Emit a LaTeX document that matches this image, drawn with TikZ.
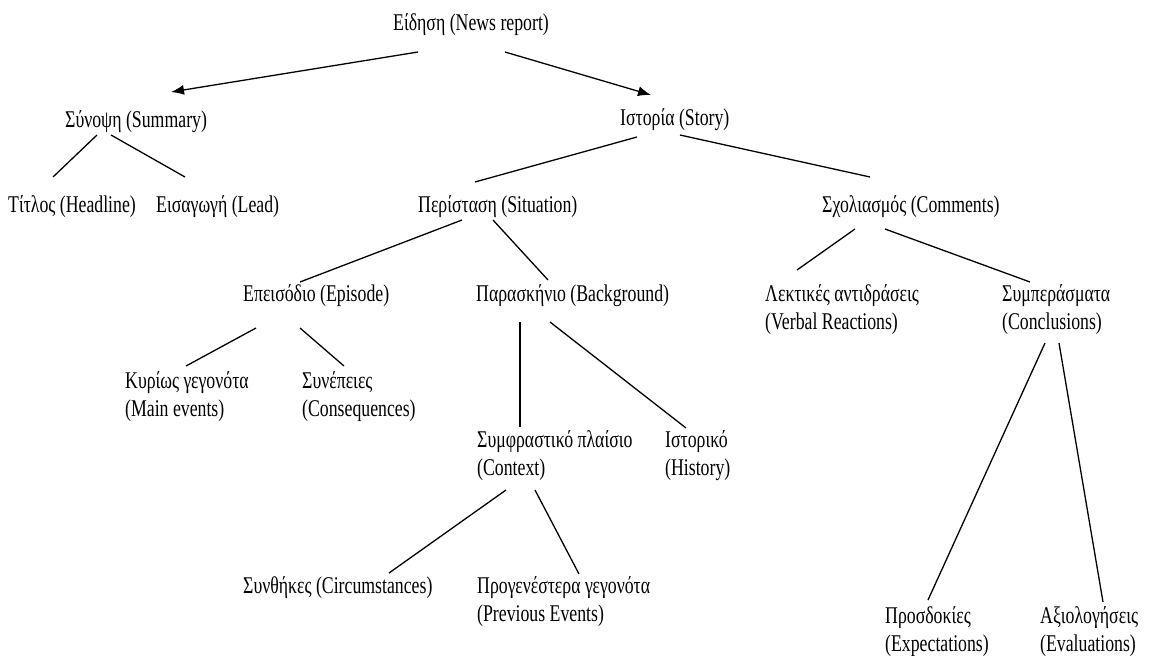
\documentclass[tikz,border=0pt]{standalone}
\usepackage{fontspec}
\setmainfont{Liberation Serif}[FakeStretch=0.74]
\usetikzlibrary{arrows.meta,calc}
\begin{document}
\begin{tikzpicture}[x=1pt,y=-1pt,
  lbl/.style={anchor=west,inner sep=0pt,align=left,font=\fontsize{24}{28}\selectfont},
  conn/.style={line width=1.3pt},
  arr/.style={line width=1.3pt,-{Latex[length=13pt,width=10pt]}}]
\useasboundingbox (0,0) rectangle (1149,656);
\node[lbl] (news) at (393,25) {Είδηση (News report)};
\node[lbl] (sum) at (65,122) {Σύνοψη (Summary)};
\node[lbl] (story) at (620,120) {Ιστορία (Story)};
\node[lbl] (tit) at (8,207) {Τίτλος (Headline)};
\node[lbl] (lead) at (156,207) {Εισαγωγή (Lead)};
\node[lbl] (sit) at (418,207) {Περίσταση (Situation)};
\node[lbl] (com) at (822,207) {Σχολιασμός (Comments)};
\node[lbl] (epi) at (243,296) {Επεισόδιο (Episode)};
\node[lbl] (bg) at (476,296) {Παρασκήνιο (Background)};
\node[lbl] (lek) at (765,310) {Λεκτικές αντιδράσεις\\(Verbal Reactions)};
\node[lbl] (sym) at (1002,310) {Συμπεράσματα\\(Conclusions)};
\node[lbl] (main) at (125,397) {Κυρίως γεγονότα\\(Main events)};
\node[lbl] (cons) at (302,397) {Συνέπειες\\(Consequences)};
\node[lbl] (ctx) at (477,456) {Συμφραστικό πλαίσιο\\(Context)};
\node[lbl] (hist) at (665,456) {Ιστορικό\\(History)};
\node[lbl] (circ) at (243,588) {Συνθήκες (Circumstances)};
\node[lbl] (prev) at (477,602) {Προγενέστερα γεγονότα\\(Previous Events)};
\node[lbl] (pros) at (885,632) {Προσδοκίες\\(Expectations)};
\node[lbl] (axi) at (1040,632) {Αξιολογήσεις\\(Evaluations)};

\draw[arr] ($(news.west)+(25,27)$) -- ($(sum.west)+(106,-30)$);
\draw[arr] ($(news.west)+(112,27)$) -- ($(story.west)+(31,-25)$);
\draw[conn] ($(sum.west)+(32,13)$) -- ($(tit.west)+(45,-30)$);
\draw[conn] ($(sum.west)+(46,13)$) -- ($(lead.west)+(29,-30)$);
\draw[conn] ($(story.west)+(17,17)$) -- ($(sit.west)+(57,-25)$);
\draw[conn] ($(story.west)+(60,15)$) -- ($(com.west)+(48,-30)$);
\draw[conn] ($(sit.west)+(44,13)$) -- ($(epi.west)+(57,-14)$);
\draw[conn] ($(sit.west)+(75,13)$) -- ($(bg.west)+(72,-16)$);
\draw[conn] ($(epi.west)+(13,32)$) -- ($(main.west)+(61,-31)$);
\draw[conn] ($(epi.west)+(57,32)$) -- ($(cons.west)+(42,-31)$);
\draw[conn] ($(bg.west)+(44,26)$) -- ($(ctx.west)+(43,-29)$);
\draw[conn] ($(bg.west)+(74,26)$) -- ($(hist.west)+(21,-28)$);
\draw[conn] ($(com.west)+(33,22)$) -- ($(lek.west)+(32,-40)$);
\draw[conn] ($(com.west)+(63,22)$) -- ($(sym.west)+(28,-28)$);
\draw[conn] ($(sym.west)+(43,33)$) -- ($(pros.west)+(43,-32)$);
\draw[conn] ($(sym.west)+(57,33)$) -- ($(axi.west)+(63,-30)$);
\draw[conn] ($(ctx.west)+(29,34)$) -- ($(circ.west)+(146,-15)$);
\draw[conn] ($(ctx.west)+(58,34)$) -- ($(prev.west)+(102,-28)$);
\end{tikzpicture}
\end{document}
